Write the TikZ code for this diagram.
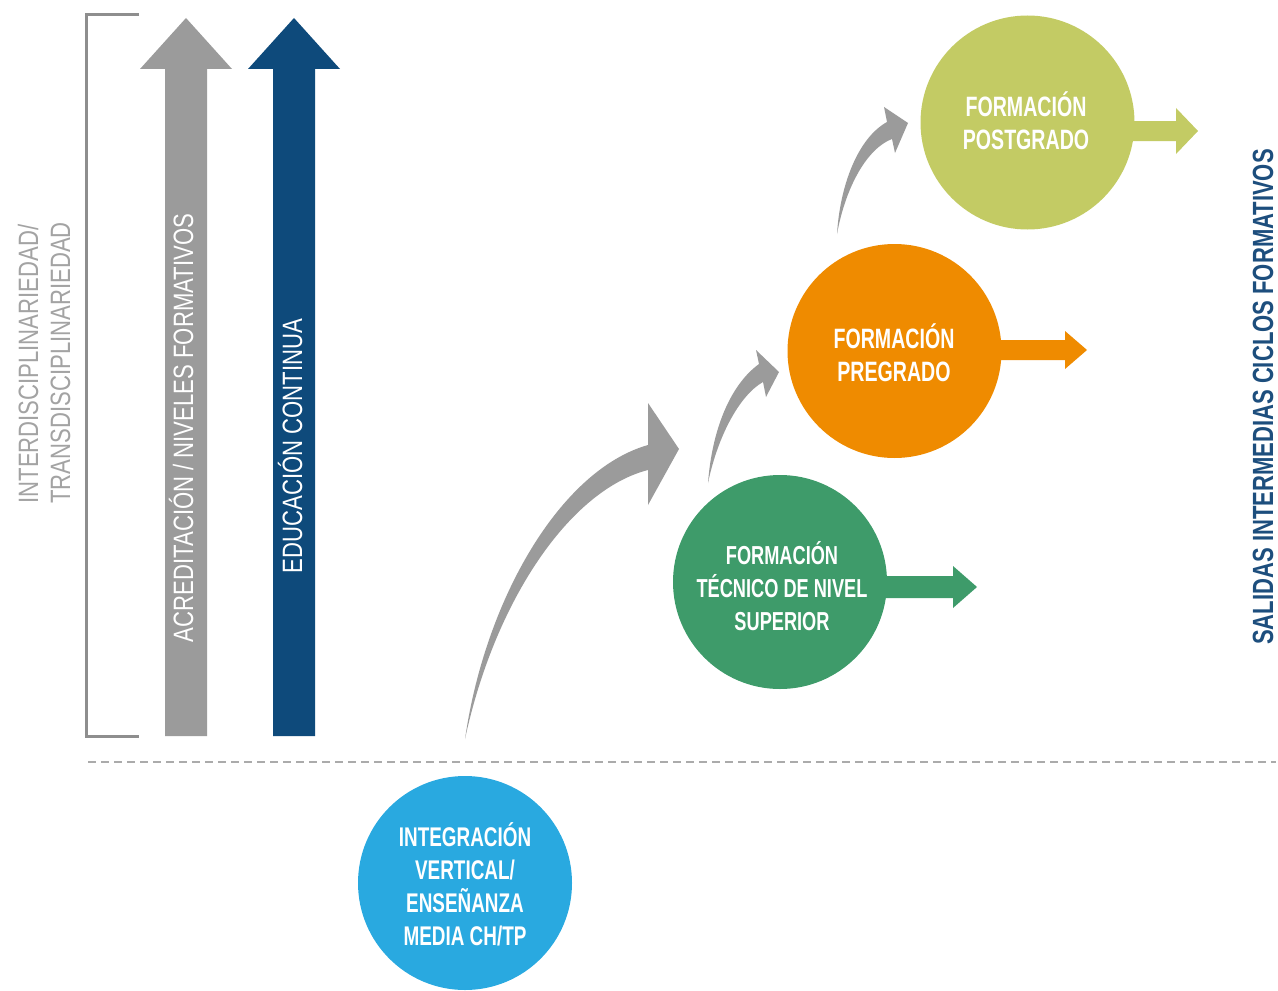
\documentclass[tikz,border=0pt]{standalone}
\usepackage{fontspec}
\setmainfont{Liberation Sans}
\newfontfamily\condR{Liberation Sans}[FakeStretch=0.79]
\newfontfamily\condB{Liberation Sans}[FakeStretch=0.70]
\newfontfamily\condT{Liberation Sans}[FakeStretch=0.755]
\definecolor{cgray}{HTML}{9B9B9B}
\definecolor{cbracket}{HTML}{8E8E8E}
\definecolor{ctxtgray}{HTML}{A3A3A3}
\definecolor{cdark}{HTML}{0E4A7B}
\definecolor{ctitle}{HTML}{1D4E7D}
\definecolor{cblue}{HTML}{29A9E0}
\definecolor{cgreen}{HTML}{3E9B6A}
\definecolor{corange}{HTML}{EF8B00}
\definecolor{clime}{HTML}{C3CB64}
\definecolor{cdash}{HTML}{ABABAB}
\begin{document}
\begin{tikzpicture}[x=0.5pt,y=-0.5pt,
  circ/.style={circle,minimum size=107pt,inner sep=0pt},
  ctext/.style n args={2}{text=white,align=center,inner sep=0pt,font=\condB\bfseries\fontsize{#1}{#2}\selectfont},
  vtext/.style={rotate=90,inner sep=0pt},
]
\useasboundingbox (0,0) rectangle (1278,990);

% bracket
\draw[cbracket,line width=1.5pt] (139,15) -- (86,15) -- (86,736) -- (139,736);

% big vertical arrows
\fill[cgray] (165,736) -- (165,69) -- (140,69) -- (186,18) -- (232,69) -- (207,69) -- (207,736) -- cycle;
\fill[cdark] (273,736) -- (273,69) -- (248,69) -- (294,18) -- (340,69) -- (315,69) -- (315,736) -- cycle;

% left labels
\node[vtext,anchor=base west,text=ctxtgray,font=\condR\fontsize{14}{16}\selectfont] (inter) at (38,504) {INTERDISCIPLINARIEDAD/};
\node[vtext,anchor=base west,text=ctxtgray,font=\condR\fontsize{14}{16}\selectfont] (trans) at (70,504) {TRANSDISCIPLINARIEDAD};
\node[vtext,anchor=base,text=white,font=\condR\fontsize{14}{16}\selectfont] (acred) at (193,428) {ACREDITACIÓN / NIVELES FORMATIVOS};
\node[vtext,anchor=base,text=white,font=\condR\fontsize{14}{16}\selectfont] (educ) at (302,446) {EDUCACIÓN CONTINUA};
\node[vtext,anchor=base,text=ctitle,font=\condT\bfseries\fontsize{14.6}{16}\selectfont] (salidas) at (1273,397) {SALIDAS INTERMEDIAS CICLOS FORMATIVOS};

% dashed separator
\draw[cdash,line width=1pt,dash pattern=on 4pt off 2.5pt] (88,762) -- (1276,762);

% circles
\node[circ,fill=cblue] (media) at (465,883) {};
\node[circ,fill=cgreen] (tec) at (780,582) {};
\node[circ,fill=corange] (pre) at (894.5,351) {};
\node[circ,fill=clime] (post) at (1027.5,122.5) {};

% right outlet arrows
\fill[cgreen] (tec.center) ++(80,-6) -- (953,576) -- (953,566) -- (977,587) -- (953,608) -- (953,598) -- (860,598) -- cycle;
\fill[corange] (pre.center) ++(85,-11) -- (1065,340) -- (1065,331) -- (1087,350) -- (1065,369) -- (1065,360) -- (979.5,360) -- cycle;
\fill[clime] (post.center) ++(85,-1.5) -- (1176,121) -- (1176,108) -- (1198,131) -- (1176,154) -- (1176,141) -- (1112.5,141) -- cycle;

% circle texts
\node[ctext={13.5}{16.5}] (tmedia) at (465,884) {INTEGRACIÓN\\VERTICAL/\\ENSEÑANZA\\MEDIA CH/TP};
\node[ctext={13}{16.5}] (ttec) at (782,586) {FORMACIÓN\\TÉCNICO DE NIVEL\\SUPERIOR};
\node[ctext={14}{16.5}] (tpre) at (894,353) {FORMACIÓN\\PREGRADO};
\node[ctext={14}{16.5}] (tpost) at (1026,121) {FORMACIÓN\\POSTGRADO};

% curved progression arrows
\coordinate (a1) at (465,739);
\coordinate (a2) at (708,483);
\coordinate (a3) at (837,234);
\fill[cgray] (a1) .. controls (485,600) and (560,470) .. (648,445) -- (648,403) -- (679,449) -- (648,505) -- (648,470) .. controls (570,490) and (495,600) .. (a1) -- cycle;
\fill[cgray] (a2) .. controls (712,430) and (730,385) .. (759,364) -- (756,350) -- (779,372) -- (766,397) -- (763,382) .. controls (740,395) and (718,435) .. (a2) -- cycle;
\fill[cgray] (a3) .. controls (840,185) and (858,138) .. (887,122) -- (884,107) -- (908,123) -- (895,153) -- (892,139) .. controls (868,148) and (846,185) .. (a3) -- cycle;
\end{tikzpicture}
\end{document}
